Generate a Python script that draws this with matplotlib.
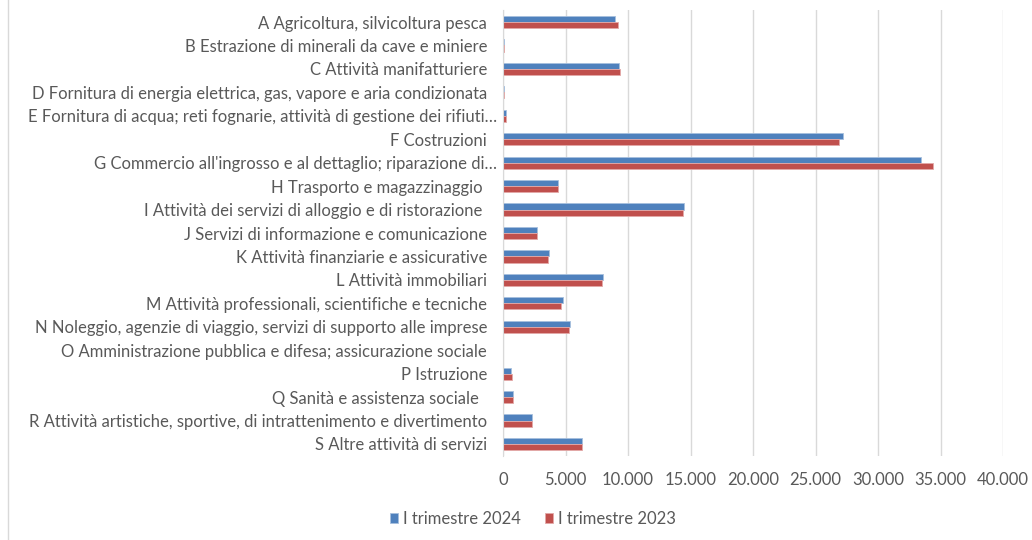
import matplotlib
matplotlib.use("Agg")
import matplotlib.pyplot as plt
import matplotlib.transforms as mtransforms
from matplotlib.ticker import FuncFormatter, MultipleLocator
from matplotlib.lines import Line2D
import numpy as np

categories = [
    "A Agricoltura, silvicoltura pesca",
    "B Estrazione di minerali da cave e miniere",
    "C Attività manifatturiere",
    "D Fornitura di energia elettrica, gas, vapore e aria condizionata",
    "E Fornitura di acqua; reti fognarie, attività di gestione dei rifiuti…",
    "F Costruzioni",
    "G Commercio all'ingrosso e al dettaglio; riparazione di…",
    "H Trasporto e magazzinaggio ",
    "I Attività dei servizi di alloggio e di ristorazione ",
    "J Servizi di informazione e comunicazione",
    "K Attività finanziarie e assicurative",
    "L Attività immobiliari",
    "M Attività professionali, scientifiche e tecniche",
    "N Noleggio, agenzie di viaggio, servizi di supporto alle imprese",
    "O Amministrazione pubblica e difesa; assicurazione sociale",
    "P Istruzione",
    "Q Sanità e assistenza sociale  ",
    "R Attività artistiche, sportive, di intrattenimento e divertimento",
    "S Altre attività di servizi",
]
q1_2024 = [8970, 60, 9310, 50, 215, 27210, 33400, 4390, 14500, 2710, 3670, 8010, 4760, 5350, 30, 670, 775, 2340, 6310]
q1_2023 = [9210, 60, 9320, 50, 200, 26870, 34370, 4390, 14370, 2740, 3570, 7880, 4630, 5240, 30, 680, 800, 2350, 6330]
series_names = ["I trimestre 2024", "I trimestre 2023"]

BLUE = "#4F81BD"
RED = "#C0504D"
TXT = "#595959"
FS = 12

plt.rcParams['font.family'] = ['Lato', 'DejaVu Sans']

fig = plt.figure(figsize=(10.32, 5.4), dpi=100)
ax = fig.add_axes([503/1032, 1 - 455.7/540, 500/1032, (455.7 - 10.3)/540])

y = np.arange(len(categories))
h = 0.26
ax.barh(y - h/2, q1_2024, height=h, color=BLUE, edgecolor="#A7C0DE", linewidth=0.6, label=series_names[0], zorder=3)
ax.barh(y + h/2, q1_2023, height=h, color=RED, edgecolor="#E3A9A8", linewidth=0.6, label=series_names[1], zorder=3)

ax.set_ylim(len(categories) - 0.5, -0.5)
ax.set_xlim(0, 40000)
ax.xaxis.set_major_locator(MultipleLocator(5000))
ax.xaxis.set_major_formatter(FuncFormatter(lambda v, p: f"{int(v):,}".replace(",", ".")))
ax.grid(axis="x", color="#D9D9D9", linewidth=1, zorder=0)
ax.set_axisbelow(True)
for s in ["top", "right", "bottom"]:
    ax.spines[s].set_visible(False)
ax.spines["left"].set_color("#D9D9D9")
ax.spines["left"].set_zorder(4)

ax.set_yticks(y)
ax.set_yticklabels(categories, fontsize=FS, color=TXT)
ax.tick_params(axis="y", length=0, pad=11.5)
ax.tick_params(axis="x", length=0, pad=12, labelsize=FS, labelcolor=TXT)

for lab in ax.get_yticklabels():
    if lab.get_text().endswith("…"):
        lab.set_transform(lab.get_transform() + mtransforms.ScaledTranslation(10/100, 0, fig.dpi_scale_trans))

fig.legend(loc="center", bbox_to_anchor=(533/1032, 1 - 519/540), ncol=2, frameon=False,
           fontsize=FS, labelcolor=TXT, handlelength=0.5, handleheight=0.5, columnspacing=1.4,
           handletextpad=0.3)

fig.add_artist(Line2D([8/1032, 8/1032], [0, 1], color="#D9D9D9", linewidth=1, transform=fig.transFigure))

fig.savefig("out.png", dpi=100, facecolor="white")
